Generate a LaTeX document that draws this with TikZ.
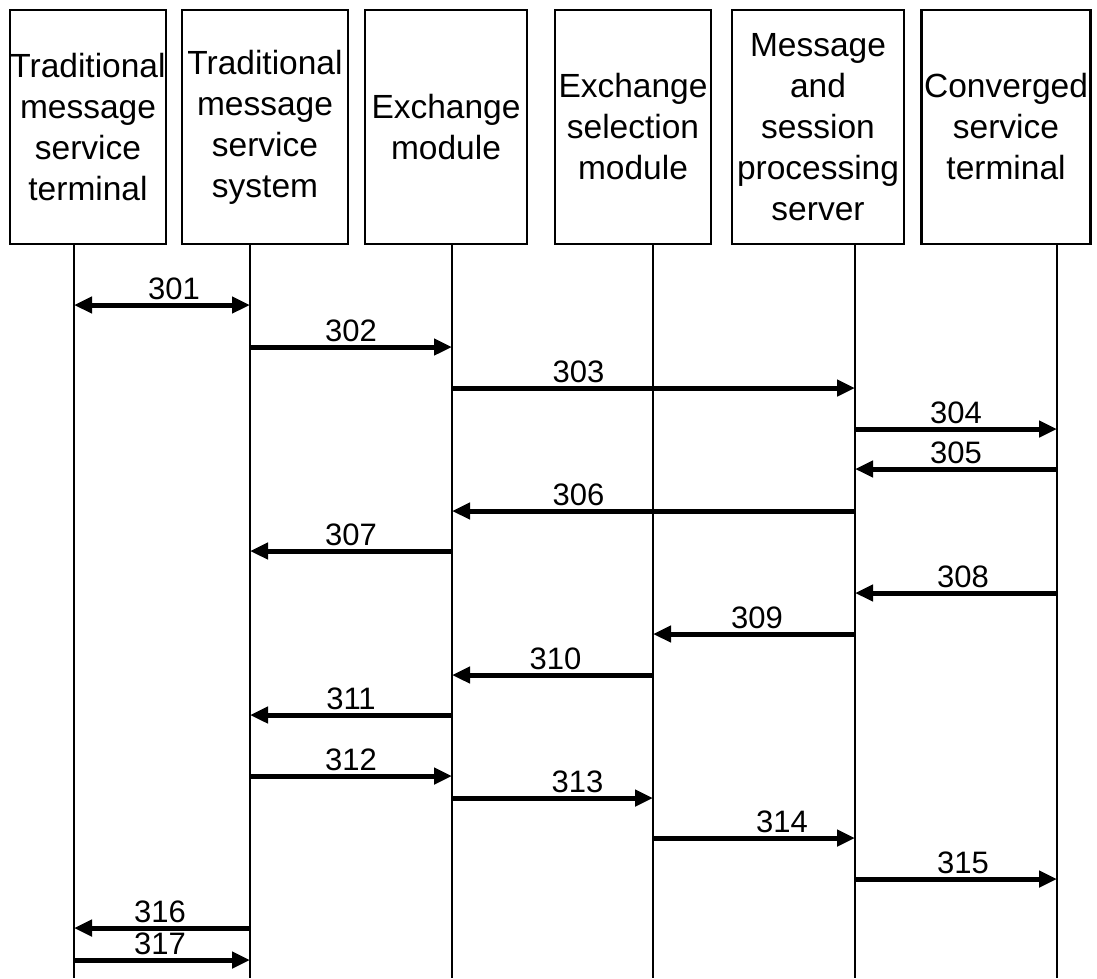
\documentclass[tikz,border=0pt]{standalone}
\usepackage{fontspec}
\setmainfont{Liberation Sans}
\usetikzlibrary{arrows.meta}

\begin{document}
\begin{tikzpicture}[
    x=1pt, y=-1pt,
    actor/.style={rectangle, draw, line width=2.8pt, minimum height=234pt,
                  inner sep=0pt, align=center, font=\fontsize{33.5}{41}\selectfont},
    life/.style={line width=2pt},
    msg/.style={-{Triangle[length=18pt, width=16pt]}, line width=5pt},
    num/.style={font=\fontsize{31}{36}\selectfont, above=1.5pt, inner sep=1pt}
]
\useasboundingbox (0,0) rectangle (1097,978);

% Participants
\node[actor, minimum width=156pt] (tmterm) at (88,127)   {Traditional\\message\\service\\terminal};
\node[actor, minimum width=166pt] (tmsys)  at (265,127)  {Traditional\\message\\service\\system};
\node[actor, minimum width=162pt] (exch)   at (446,127)  {Exchange\\module};
\node[actor, minimum width=156pt] (exsel)  at (633,127)  {Exchange\\selection\\module};
\node[actor, minimum width=172pt] (mssrv)  at (818,127)  {Message\\and\\session\\processing\\server};
\node[actor, minimum width=169pt] (cvterm) at (1006,127) {Converged\\service\\terminal};

% Lifelines
\coordinate (L1) at (74,0);
\coordinate (L2) at (250,0);
\coordinate (L3) at (452,0);
\coordinate (L4) at (653,0);
\coordinate (L5) at (855,0);
\coordinate (L6) at (1057,0);
\draw[life] (tmterm.south -| L1) -- (L1 |- 0,978);
\draw[life] (tmsys.south -| L2)  -- (L2 |- 0,978);
\draw[life] (exch.south -| L3)   -- (L3 |- 0,978);
\draw[life] (exsel.south -| L4)  -- (L4 |- 0,978);
\draw[life] (mssrv.south -| L5)  -- (L5 |- 0,978);
\draw[life] (cvterm.south -| L6) -- (L6 |- 0,978);

% Messages
\draw[msg, {Triangle[length=18pt, width=16pt]}-{Triangle[length=18pt, width=16pt]}]
    (L1 |- 0,305) -- node[num, xshift=12pt] {301} (L2 |- 0,305);
\draw[msg] (L2 |- 0,347) -- node[num] {302} (L3 |- 0,347);
\draw[msg] (L3 |- 0,388) -- node[num, xshift=-75pt] {303} (L5 |- 0,388);
\draw[msg] (L5 |- 0,429) -- node[num] {304} (L6 |- 0,429);
\draw[msg] (L6 |- 0,469) -- node[num] {305} (L5 |- 0,469);
\draw[msg] (L5 |- 0,511) -- node[num, xshift=-75pt] {306} (L3 |- 0,511);
\draw[msg] (L3 |- 0,551) -- node[num] {307} (L2 |- 0,551);
\draw[msg] (L6 |- 0,593) -- node[num, xshift=7pt] {308} (L5 |- 0,593);
\draw[msg] (L5 |- 0,634) -- node[num, xshift=3pt] {309} (L4 |- 0,634);
\draw[msg] (L4 |- 0,675) -- node[num, xshift=3pt] {310} (L3 |- 0,675);
\draw[msg] (L3 |- 0,715) -- node[num] {311} (L2 |- 0,715);
\draw[msg] (L2 |- 0,776) -- node[num] {312} (L3 |- 0,776);
\draw[msg] (L3 |- 0,798) -- node[num, xshift=25pt] {313} (L4 |- 0,798);
\draw[msg] (L4 |- 0,838) -- node[num, xshift=28pt] {314} (L5 |- 0,838);
\draw[msg] (L5 |- 0,879) -- node[num, xshift=7pt] {315} (L6 |- 0,879);
\draw[msg] (L2 |- 0,928) -- node[num, xshift=-2pt] {316} (L1 |- 0,928);
\draw[msg] (L1 |- 0,960) -- node[num, xshift=-2pt] {317} (L2 |- 0,960);
\end{tikzpicture}
\end{document}
